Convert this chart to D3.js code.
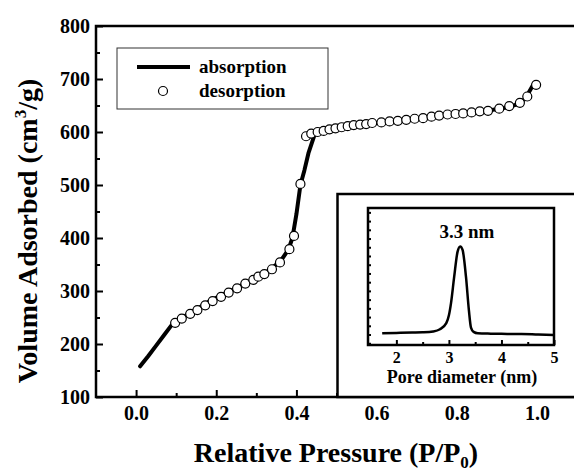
<!DOCTYPE html>
<html>
<head>
<meta charset="utf-8">
<script src="https://cdn.jsdelivr.net/npm/d3@7"></script>
<style>
  body { margin: 0; background: #fff; }
</style>
</head>
<body>
<div id="chart"></div>
<script>
// isotherm, absorption branch (line)
var absX = [0.01, 0.03, 0.05, 0.07, 0.09, 0.12, 0.15, 0.18, 0.21, 0.24, 0.27, 0.30, 0.33, 0.36, 0.38, 0.39, 0.40, 0.41, 0.42, 0.43, 0.445, 0.47, 0.50, 0.55, 0.60, 0.65, 0.70, 0.75, 0.80, 0.85, 0.90, 0.93, 0.95, 0.97, 0.99];
var absY = [158, 177, 197, 217, 237, 252, 265, 279, 291, 302, 313, 324, 338, 356, 378, 400, 445, 500, 528, 560, 594, 601, 606, 612, 617, 621, 625, 629, 633, 638, 643, 647, 652, 662, 688];

// desorption branch (open circles)
var desX = [0.0975, 0.114, 0.135, 0.153, 0.1725, 0.191, 0.212, 0.231, 0.252, 0.2725, 0.2925, 0.305, 0.32, 0.339, 0.359, 0.3825, 0.394, 0.41, 0.424, 0.437, 0.453, 0.468, 0.4825, 0.4975, 0.513, 0.528, 0.543, 0.559, 0.574, 0.589, 0.612, 0.6325, 0.653, 0.674, 0.695, 0.716, 0.737, 0.756, 0.777, 0.797, 0.816, 0.837, 0.8575, 0.878, 0.906, 0.931, 0.9575, 0.976, 0.998];
var desY = [240, 248, 257, 264, 273, 281, 289, 297, 305, 314, 321, 327, 332, 341, 354, 379, 404, 502, 592, 597, 600, 602, 605, 607, 609, 611, 613, 614, 615, 617, 618, 620, 621, 623, 625, 626, 629, 631, 633, 634, 635, 637, 639, 640, 644, 649, 655, 667, 689];

// inset: pore size distribution
var poreD = [1.73, 2.0, 2.3, 2.5, 2.7, 2.83, 2.95, 3.0, 3.04, 3.1, 3.165, 3.215, 3.26, 3.325, 3.38, 3.42, 3.47, 3.55, 3.8, 4.0, 4.38, 4.7, 5.0];
var poreV = [0.014, 0.018, 0.022, 0.025, 0.035, 0.06, 0.13, 0.22, 0.36, 0.66, 0.95, 1.01, 0.97, 0.66, 0.28, 0.08, 0.03, 0.014, 0.01, 0.008, 0.006, 0.0, -0.005];

// tick labels
var xTicks = [0.0, 0.2, 0.4, 0.6, 0.8, 1.0];
var xMinor = [0.1, 0.3, 0.5, 0.7, 0.9];
var yTicks = [100, 200, 300, 400, 500, 600, 700, 800];
var yMinor = [150, 250, 350, 450, 550, 650, 750];
var insetXTicks = [2, 3, 4, 5];
var insetXMinor = [2.5, 3.5, 4.5];

var svgWidth = 574;
var svgHeight = 471;
var serif = "'Liberation Serif', 'Times New Roman', serif";

var svg = d3.select("#chart")
  .append("svg")
  .attr("width", svgWidth)
  .attr("height", svgHeight)
  .style("font-family", serif)
  .style("font-weight", "bold");

// main scales
var x = d3.scaleLinear().domain([-0.1, 1.1]).range([96, 577]);
var y = d3.scaleLinear().domain([100, 800]).range([397, 26]);

// frame (right side falls outside the picture)
svg.append("rect")
  .attr("x", x(-0.1)).attr("y", y(800))
  .attr("width", x(1.1) - x(-0.1)).attr("height", y(100) - y(800))
  .attr("fill", "none").attr("stroke", "#000").attr("stroke-width", 2.5);

function styleAxis(g) {
  g.attr("font-family", null).attr("font-size", null);
  g.select(".domain").remove();
  g.selectAll(".tick line").attr("stroke", "#000").attr("stroke-width", 2);
  g.selectAll(".tick text").attr("fill", "#000").style("font-family", serif);
}

// minor ticks
svg.append("g")
  .attr("transform", "translate(0," + y(100) + ")")
  .call(d3.axisBottom(x).tickValues(xMinor).tickSizeInner(-4).tickSizeOuter(0).tickFormat(""))
  .call(styleAxis);
svg.append("g")
  .attr("transform", "translate(" + x(-0.1) + ",0)")
  .call(d3.axisLeft(y).tickValues(yMinor).tickSizeInner(-4).tickSizeOuter(0).tickFormat(""))
  .call(styleAxis);

// major ticks
svg.append("g")
  .attr("transform", "translate(0," + y(100) + ")")
  .call(d3.axisBottom(x).tickValues(xTicks).tickSizeInner(-7).tickSizeOuter(0).tickPadding(9).tickFormat(d3.format(".1f")))
  .call(styleAxis)
  .style("font-size", "20px");

svg.append("g")
  .attr("transform", "translate(" + x(-0.1) + ",0)")
  .call(d3.axisLeft(y).tickValues(yTicks).tickSizeInner(-7).tickSizeOuter(0).tickPadding(6))
  .call(styleAxis)
  .style("font-size", "20px");

// axis titles
var xTitle = svg.append("text")
  .attr("x", 336).attr("y", 462)
  .attr("text-anchor", "middle")
  .style("font-size", "28px");
xTitle.append("tspan").text("Relative Pressure (P/P");
xTitle.append("tspan").attr("dy", 6).style("font-size", "17px").text("0");
xTitle.append("tspan").attr("dy", -6).text(")");

var yTitle = svg.append("text")
  .attr("transform", "translate(37,231) rotate(-90)")
  .attr("text-anchor", "middle")
  .style("font-size", "28px");
yTitle.append("tspan").text("Volume Adsorbed (cm");
yTitle.append("tspan").attr("dy", -11).style("font-size", "17px").text("3");
yTitle.append("tspan").attr("dy", 11).text("/g)");

// absorption line
var line = d3.line()
  .x(function(d) { return x(d[0]); })
  .y(function(d) { return y(d[1]); });

var absData = absX.map(function(v, i) { return [v, absY[i]]; });
svg.append("path")
  .datum(absData)
  .attr("d", line)
  .attr("fill", "none")
  .attr("stroke", "#000")
  .attr("stroke-width", 4)
  .attr("stroke-linejoin", "round")
  .attr("stroke-linecap", "round");

// desorption circles
var desData = desX.map(function(v, i) { return [v, desY[i]]; });
svg.selectAll(".des")
  .data(desData)
  .enter()
  .append("circle")
  .attr("class", "des")
  .attr("cx", function(d) { return x(d[0]); })
  .attr("cy", function(d) { return y(d[1]); })
  .attr("r", 4.5)
  .attr("fill", "#fff")
  .attr("stroke", "#000")
  .attr("stroke-width", 1.2);

// legend
var legend = svg.append("g");
legend.append("rect")
  .attr("x", 117).attr("y", 48).attr("width", 211).attr("height", 61)
  .attr("fill", "#fff").attr("stroke", "#333").attr("stroke-width", 1);
legend.append("line")
  .attr("x1", 137).attr("x2", 190).attr("y1", 67).attr("y2", 67)
  .attr("stroke", "#000").attr("stroke-width", 4);
legend.append("circle")
  .attr("cx", 163).attr("cy", 91).attr("r", 4.5)
  .attr("fill", "#fff").attr("stroke", "#000").attr("stroke-width", 1.2);
legend.append("text").attr("x", 199).attr("y", 73).style("font-size", "19px").text("absorption");
legend.append("text").attr("x", 199).attr("y", 97).style("font-size", "19px").text("desorption");

// inset outer box
svg.append("rect")
  .attr("x", x(0.5) + 1).attr("y", y(483))
  .attr("width", x(1.1) - x(0.5)).attr("height", y(100) - y(483))
  .attr("fill", "#fff").attr("stroke", "#000").attr("stroke-width", 2.5);

// inset plot
var ix = d3.scaleLinear().domain([1.46, 5]).range([368, 554]);
var iy = d3.scaleLinear().domain([-0.12, 1.45]).range([345, 208]);

svg.append("rect")
  .attr("x", ix(1.46)).attr("y", iy(1.45))
  .attr("width", ix(5) - ix(1.46)).attr("height", iy(-0.12) - iy(1.45))
  .attr("fill", "#fff").attr("stroke", "#000").attr("stroke-width", 2.5);

svg.append("g")
  .attr("transform", "translate(0," + iy(-0.12) + ")")
  .call(d3.axisBottom(ix).tickValues(insetXMinor).tickSizeInner(-3).tickSizeOuter(0).tickFormat(""))
  .call(styleAxis);
svg.append("g")
  .attr("transform", "translate(0," + iy(-0.12) + ")")
  .call(d3.axisBottom(ix).tickValues(insetXTicks).tickSizeInner(-5).tickSizeOuter(0).tickPadding(7).tickFormat(d3.format("d")))
  .call(styleAxis)
  .style("font-size", "16px");

svg.append("g")
  .attr("transform", "translate(" + ix(1.46) + ",0)")
  .call(d3.axisLeft(iy).ticks(12).tickSizeInner(-3).tickSizeOuter(0).tickFormat(""))
  .call(styleAxis);

var poreData = poreD.map(function(v, i) { return [v, poreV[i]]; });
svg.append("path")
  .datum(poreData)
  .attr("d", d3.line()
    .x(function(d) { return ix(d[0]); })
    .y(function(d) { return iy(d[1]); })
    .curve(d3.curveMonotoneX))
  .attr("fill", "none")
  .attr("stroke", "#000")
  .attr("stroke-width", 2.5);

svg.append("text")
  .attr("x", 467).attr("y", 238)
  .attr("text-anchor", "middle")
  .style("font-size", "19px")
  .text("3.3 nm");

svg.append("text")
  .attr("x", 462).attr("y", 383)
  .attr("text-anchor", "middle")
  .style("font-size", "18px")
  .text("Pore diameter (nm)");
</script>
</body>
</html>
